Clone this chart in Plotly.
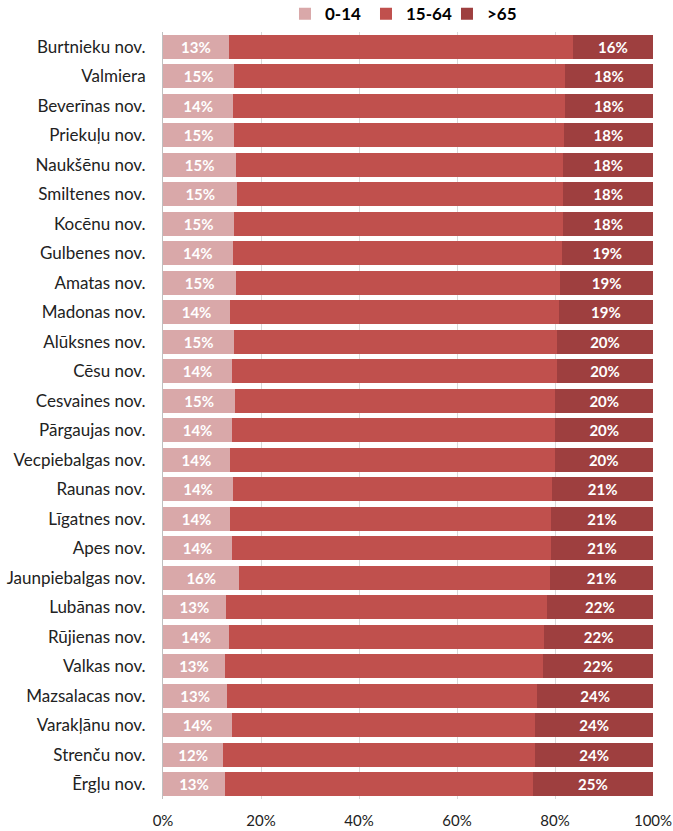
import plotly.graph_objects as go

categories = ["Burtnieku nov.", "Valmiera", "Beverīnas nov.", "Priekuļu nov.", "Naukšēnu nov.",
              "Smiltenes nov.", "Kocēnu nov.", "Gulbenes nov.", "Amatas nov.", "Madonas nov.",
              "Alūksnes nov.", "Cēsu nov.", "Cesvaines nov.", "Pārgaujas nov.", "Vecpiebalgas nov.",
              "Raunas nov.", "Līgatnes nov.", "Apes nov.", "Jaunpiebalgas nov.", "Lubānas nov.",
              "Rūjienas nov.", "Valkas nov.", "Mazsalacas nov.", "Varakļānu nov.", "Strenču nov.",
              "Ērgļu nov."]
age_0_14 = [13.4, 14.55, 14.35, 14.55, 14.96, 15.2, 14.55, 14.2, 14.96, 13.7,
            14.55, 14.1, 14.76, 14.1, 13.6, 14.3, 13.7, 14.1, 15.6, 12.8,
            13.5, 12.65, 13.1, 14.1, 12.3, 12.65]
age_65 = [16.4, 18.0, 18.0, 18.2, 18.3, 18.3, 18.3, 18.65, 18.9, 19.2,
          19.6, 19.6, 19.9, 19.9, 20.1, 20.55, 20.8, 20.8, 20.95, 21.7,
          22.2, 22.4, 23.6, 24.0, 24.0, 24.55]
age_15_64 = [round(100 - a - b, 2) for a, b in zip(age_0_14, age_65)]
series_names = ["0-14", "15-64", ">65"]
x_ticks = [0, 20, 40, 60, 80, 100]
x_tick_labels = ["0%", "20%", "40%", "60%", "80%", "100%"]

colors = ["#D9A8A9", "#C0504D", "#9E3F3F"]
FONT = "Lato, 'Open Sans', sans-serif"


def pct(v):
    return f"{int(v + 0.5)}%"


label_font = dict(family=FONT, size=15, color="white", weight="bold")

fig = go.Figure()
fig.add_trace(go.Bar(
    y=categories, x=age_0_14, name=series_names[0], orientation="h",
    marker=dict(color=colors[0], line=dict(width=0)),
    text=[pct(v) for v in age_0_14], textposition="inside",
    insidetextanchor="middle", textfont=label_font, hoverinfo="skip"))
fig.add_trace(go.Bar(
    y=categories, x=age_15_64, name=series_names[1], orientation="h",
    marker=dict(color=colors[1], line=dict(width=0)), hoverinfo="skip"))
fig.add_trace(go.Bar(
    y=categories, x=age_65, name=series_names[2], orientation="h",
    marker=dict(color=colors[2], line=dict(width=0)),
    text=[pct(v) for v in age_65], textposition="inside",
    insidetextanchor="middle", textfont=label_font, hoverinfo="skip"))

fig.update_layout(
    barmode="stack",
    bargap=0.17,
    width=673, height=831,
    margin=dict(l=163, r=20, t=32, b=32, autoexpand=False),
    paper_bgcolor="white", plot_bgcolor="white",
    font=dict(family=FONT, color="#222222", size=17),
    uniformtext=dict(mode="show", minsize=15),
    legend=dict(orientation="h", x=0.604, xanchor="center", xref="container",
                y=0.983, yanchor="middle", yref="container",
                bgcolor="rgba(0,0,0,0)",
                font=dict(size=17, color="#000000", family=FONT, weight="bold"),
                entrywidth=36, entrywidthmode="pixels",
                traceorder="normal"),
    xaxis=dict(range=[0, 100], tickvals=x_ticks, ticktext=x_tick_labels,
               showgrid=True, gridcolor="#D9D9D9", gridwidth=1, zeroline=False,
               showline=False, ticks="outside", ticklen=8, tickcolor="rgba(0,0,0,0)",
               ticklabeloverflow="allow",
               tickfont=dict(size=15, color="#222222"), fixedrange=True, automargin=False),
    yaxis=dict(categoryorder="array", categoryarray=categories, autorange="reversed",
               showline=True, linecolor="#BFBFBF", linewidth=1,
               ticks="outside", ticklen=13, tickcolor="rgba(0,0,0,0)",
               tickfont=dict(size=17, color="#222222"), automargin=False),
)

fig.write_html("out.html", config={"displayModeBar": False, "staticPlot": True},
               post_script="document.body.style.margin='0';document.body.style.overflow='hidden';")
